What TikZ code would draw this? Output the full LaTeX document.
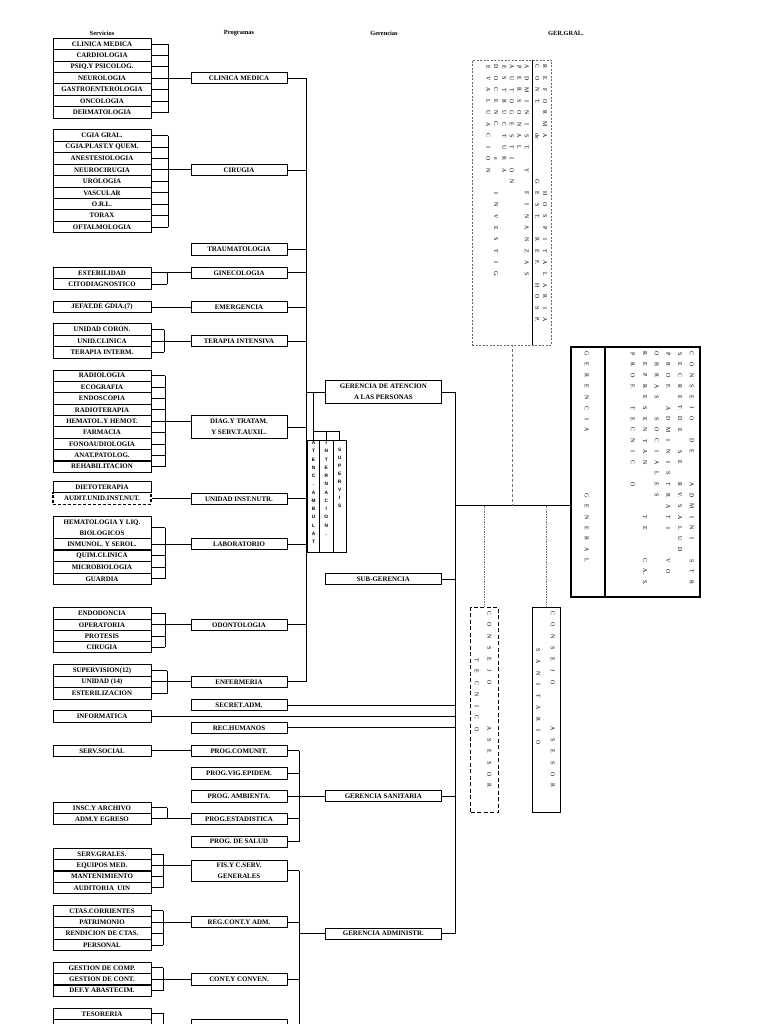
\documentclass[tikz,border=0pt]{standalone}
\usepackage{fontspec}
\setmainfont{Liberation Serif}
\newfontfamily\sansfam{Liberation Sans}
\ExplSyntaxOn
\NewDocumentCommand \vstack { m m }
  {
    \vbox:n
      {
        \skip_set:Nn \baselineskip {#1}
        \dim_set:Nn \lineskiplimit { -\c_max_dim }
        \tl_map_inline:nn {#2} { \hbox_to_wd:nn { 6pt } { \hss ##1 \hss } }
      }
  }
\NewDocumentCommand \hspaced { m m }
  {
    \tl_map_inline:nn {#2} { \hbox_to_wd:nn {#1} { \hss ##1 \hss } }
  }
\ExplSyntaxOff
\newcommand\bxfont{\fontsize{6.9}{10.6}\selectfont\bfseries}
\newcommand\hdfont{\fontsize{6.4}{7}\selectfont\bfseries}
\newcommand\rtfont{\fontsize{5.9}{6}\selectfont}
\newcommand\vsfont{\sansfam\fontsize{4.8}{5}\selectfont\bfseries}
\begin{document}
\begin{tikzpicture}[x=1pt,y=-1pt,
  box/.style={draw, line width=1pt, inner sep=0pt, align=center, font=\bxfont},
  svc/.style={box, minimum width=98pt, minimum height=11.4pt},
  prg/.style={box, minimum width=96pt, minimum height=11.2pt},
  ger/.style={box, minimum width=115.3pt, minimum height=10.8pt},
  ln/.style={line width=0.8pt},
  dd/.style={draw=black!55, line width=0.6pt, dash pattern=on 2pt off 1.2pt on 0.6pt off 1.2pt},
  rt/.style={rotate=-90, anchor=west, inner sep=0pt, font=\rtfont, text=black},
  vs/.style={inner sep=0pt, anchor=north, font=\vsfont},
  hd/.style={inner sep=0pt, font=\hdfont}]
\useasboundingbox (0,0) rectangle (768,1024);
\clip (0,0) rectangle (768,1024);

% headers
\node[hd] (hS) at (102,33) {Servicios};
\node[hd] (hP) at (239,33) {Programas};
\node[hd] (hG) at (384,33) {Gerencias};
\node[hd] (hGG) at (566,33) {GER.GRAL.};

% trunk coordinates
\coordinate (T1) at (306.7,0);
\coordinate (T2) at (455.7,0);
\coordinate (T3) at (299.3,0);
\coordinate (bot) at (0,1032);

% ---- CLINICA MEDICA
\node[svc] (cm1) at (102,44.0) {CLINICA MEDICA};
\node[svc] (cm2) at (102,55.4) {CARDIOLOGIA};
\node[svc] (cm3) at (102,66.9) {PSIQ.Y PSICOLOG.};
\node[svc] (cm4) at (102,78.3) {NEUROLOGIA};
\node[svc] (cm5) at (102,89.7) {GASTROENTEROLOGIA};
\node[svc] (cm6) at (102,101.2) {ONCOLOGIA};
\node[svc] (cm7) at (102,112.6) {DERMATOLOGIA};
\node[prg] (pCM) at (239,78.4) {CLINICA MEDICA};
\coordinate (Bcm) at (168,0);
\foreach \n in {cm1,cm2,cm3,cm4,cm5,cm6,cm7} \draw[ln] (\n.east) -- (\n.east -| Bcm);
\draw[ln] (cm1.east -| Bcm) -- (cm7.east -| Bcm);
\draw[ln] (cm4.east -| Bcm) -- (cm4.east -| pCM.west);

% ---- CIRUGIA
\node[svc] (cg1) at (102,135.7) {CGIA GRAL.};
\node[svc] (cg2) at (102,147.1) {CGIA.PLAST.Y QUEM.};
\node[svc] (cg3) at (102,158.5) {ANESTESIOLOGIA};
\node[svc] (cg4) at (102,169.9) {NEUROCIRUGIA};
\node[svc] (cg5) at (102,181.4) {UROLOGIA};
\node[svc] (cg6) at (102,192.8) {VASCULAR};
\node[svc] (cg7) at (102,204.2) {O.R.L.};
\node[svc] (cg8) at (102,215.6) {TORAX};
\node[svc] (cg9) at (102,227.0) {OFTALMOLOGIA};
\node[prg] (pCIR) at (239,170) {CIRUGIA};
\coordinate (Bcg) at (168,0);
\foreach \n in {cg1,cg2,cg3,cg4,cg5,cg6,cg7,cg8,cg9} \draw[ln] (\n.east) -- (\n.east -| Bcg);
\draw[ln] (cg1.east -| Bcg) -- (cg9.east -| Bcg);
\draw[ln] (cg4.east -| Bcg) -- (cg4.east -| pCIR.west);

% ---- TRAUMATOLOGIA
\node[prg] (pTRA) at (239,249.5) {TRAUMATOLOGIA};

% ---- GINECOLOGIA
\node[svc] (gi1) at (102,272.8) {ESTERILIDAD};
\node[svc] (gi2) at (102,284.2) {CITODIAGNOSTICO};
\node[prg] (pGIN) at (239,272.8) {GINECOLOGIA};
\coordinate (Bgi) at (167,0);
\foreach \n in {gi1,gi2} \draw[ln] (\n.east) -- (\n.east -| Bgi);
\draw[ln] (gi1.east -| Bgi) -- (gi2.east -| Bgi);
\draw[ln] (gi1.east -| Bgi) -- (pGIN.west);

% ---- EMERGENCIA
\node[svc] (jef) at (102,307.2) {JEFAT.DE GDIA.(7)};
\node[prg] (pEME) at (239,307.2) {EMERGENCIA};
\draw[ln] (jef.east) -- (pEME.west);

% ---- TERAPIA
\node[svc] (tr1) at (102,329.5) {UNIDAD CORON.};
\node[svc] (tr2) at (102,341) {UNID.CLINICA};
\node[svc] (tr3) at (102,352.4) {TERAPIA INTERM.};
\node[prg] (pTER) at (239,341) {TERAPIA INTENSIVA};
\coordinate (Btr) at (164,0);
\foreach \n in {tr1,tr2,tr3} \draw[ln] (\n.east) -- (\n.east -| Btr);
\draw[ln] (tr1.east -| Btr) -- (tr3.east -| Btr);
\draw[ln] (tr2.east -| Btr) -- (pTER.west);

% ---- DIAG
\node[svc] (dx1) at (102,375.7) {RADIOLOGIA};
\node[svc] (dx2) at (102,387.1) {ECOGRAFIA};
\node[svc] (dx3) at (102,398.4) {ENDOSCOPIA};
\node[svc] (dx4) at (102,409.8) {RADIOTERAPIA};
\node[svc] (dx5) at (102,421.2) {HEMATOL.Y HEMOT.};
\node[svc] (dx6) at (102,432.5) {FARMACIA};
\node[svc] (dx7) at (102,443.9) {FONOAUDIOLOGIA};
\node[svc] (dx8) at (102,455.3) {ANAT.PATOLOG.};
\node[svc] (dx9) at (102,466.6) {REHABILITACION};
\node[prg, minimum height=22.6pt] (pDIA) at (239,427) {DIAG.Y TRATAM.\\Y SERV.T.AUXIL.};
\coordinate (Bdx) at (165,0);
\foreach \n in {dx1,dx2,dx3,dx4,dx5,dx6,dx7,dx8,dx9} \draw[ln] (\n.east) -- (\n.east -| Bdx);
\draw[ln] (dx1.east -| Bdx) -- (dx9.east -| Bdx);
\draw[ln] (dx5.east -| Bdx) -- (dx5.east -| pDIA.west);

% ---- UNIDAD INST. NUTR.
\node[svc, minimum height=11pt] (diet) at (102,487.2) {DIETOTERAPIA};
\node[svc, minimum height=11.6pt, line width=1.4pt, dash pattern=on 3pt off 2pt] (aud) at (102,498.5) {AUDIT.UNID.INST.NUT.};
\node[prg] (pUNI) at (239,498.8) {UNIDAD INST.NUTR.};
\draw[ln] (aud.east) -- (aud.east -| pUNI.west);

% ---- LABORATORIO
\node[svc, minimum height=21.6pt] (lb1) at (102,527.5) {HEMATOLOGIA Y LIQ.\\BIOLOGICOS};
\node[svc] (lb2) at (102,544.15) {INMUNOL. Y SEROL.};
\node[svc] (lb3) at (102,555.85) {QUIM.CLINICA};
\node[svc] (lb4) at (102,567.5) {MICROBIOLOGIA};
\node[svc] (lb5) at (102,578.8) {GUARDIA};
\node[prg] (pLAB) at (239,544.15) {LABORATORIO};
\coordinate (Blb) at (165,0);
\foreach \n in {lb1,lb2,lb3,lb4,lb5} \draw[ln] (\n.east) -- (\n.east -| Blb);
\draw[ln] (lb1.east -| Blb) -- (lb5.east -| Blb);
\draw[ln] (lb2.east -| Blb) -- (pLAB.west);

% ---- ODONTOLOGIA
\node[svc] (od1) at (102,613.35) {ENDODONCIA};
\node[svc] (od2) at (102,624.85) {OPERATORIA};
\node[svc] (od3) at (102,636.2) {PROTESIS};
\node[svc] (od4) at (102,647.2) {CIRUGIA};
\node[prg] (pODO) at (239,624.85) {ODONTOLOGIA};
\coordinate (Bod) at (165,0);
\foreach \n in {od1,od2,od3,od4} \draw[ln] (\n.east) -- (\n.east -| Bod);
\draw[ln] (od1.east -| Bod) -- (od4.east -| Bod);
\draw[ln] (od2.east -| Bod) -- (pODO.west);

% ---- ENFERMERIA
\node[svc] (en1) at (102,670.5) {SUPERVISION(12)};
\node[svc] (en2) at (102,681.85) {UNIDAD (14)};
\node[svc] (en3) at (102,693.5) {ESTERILIZACION};
\node[prg] (pENF) at (239,681.85) {ENFERMERIA};
\coordinate (Ben) at (167,0);
\foreach \n in {en1,en2,en3} \draw[ln] (\n.east) -- (\n.east -| Ben);
\draw[ln] (en1.east -| Ben) -- (en3.east -| Ben);
\draw[ln] (en2.east -| Ben) -- (pENF.west);

% ---- trunk of Gerencia de Atencion
\foreach \n in {pCM,pCIR,pTRA,pGIN,pEME,pTER,pDIA,pUNI,pLAB,pODO,pENF} \draw[ln] (\n.east) -- (\n.east -| T1);
\draw[ln] (pCM.east -| T1) -- (pENF.east -| T1);

% ---- Gerencias
\node[ger, minimum height=22.6pt] (gAT) at (383.35,392) {GERENCIA DE ATENCION\\A LAS PERSONAS};
\node[ger] (gSUB) at (383.35,579.15) {SUB-GERENCIA};
\node[ger] (gSAN) at (383.35,796.35) {GERENCIA SANITARIA};
\node[ger] (gADM) at (383.35,933.65) {GERENCIA ADMINISTR.};
\draw[ln] (gAT.west -| T1) -- (gAT.west);

% ---- vertical boxes
\node[draw, line width=1pt, minimum width=11.6pt, minimum height=112.3pt, inner sep=0pt] (vA) at (313.5,496.15) {};
\node[draw, line width=1pt, minimum width=14pt, minimum height=112.3pt, inner sep=0pt] (vI) at (326.3,496.15) {};
\node[draw, line width=1pt, minimum width=12.7pt, minimum height=112.3pt, inner sep=0pt] (vS) at (339.65,496.15) {};
\node[vs] (vAt) at (313.5,441.2) {\vstack{8.25pt}{ATENC.AMBULAT}};
\node[vs] (vIt) at (326.3,441.2) {\vstack{8.25pt}{INTERNACION.}};
\node[vs] (vSt) at (339.65,441.2) {\vstack{8.1pt}{-SUPERVIS}};
\coordinate (br) at (0,431.7);
\draw[ln] (vA.north |- gAT.west) -- (vA.north);
\draw[ln] (vA.north |- br) -| (vS.north);
\draw[ln] (vI.north |- br) -- (vI.north);

% ---- staff to right trunk
\node[prg] (pSEC) at (239,705) {SECRET.ADM.};
\node[svc] (inf) at (102,716.5) {INFORMATICA};
\node[prg] (pREC) at (239,727.8) {REC.HUMANOS};

% ---- Gerencia sanitaria
\node[svc] (ss) at (102,750.85) {SERV.SOCIAL};
\node[prg] (pCOM) at (239,750.85) {PROG.COMUNIT.};
\draw[ln] (ss.east) -- (pCOM.west);
\node[prg] (pVIG) at (239,773.5) {PROG.VIG.EPIDEM.};
\node[prg] (pAMB) at (239,796.5) {PROG. AMBIENTA.};
\node[svc] (is1) at (102,807.8) {INSC.Y ARCHIVO};
\node[svc] (is2) at (102,818.8) {ADM.Y EGRESO};
\node[prg] (pEST) at (239,818.8) {PROG.ESTADISTICA};
\coordinate (Bis) at (167,0);
\foreach \n in {is1,is2} \draw[ln] (\n.east) -- (\n.east -| Bis);
\draw[ln] (is1.east -| Bis) -- (is2.east -| Bis);
\draw[ln] (is2.east -| Bis) -- (pEST.west);
\node[prg] (pSAL) at (239,841.65) {PROG. DE SALUD};
\foreach \n in {pCOM,pVIG,pAMB,pEST,pSAL} \draw[ln] (\n.east) -- (\n.east -| T3);
\draw[ln] (pCOM.east -| T3) -- (pSAL.east -| T3);
\draw[ln] (gSAN.west -| T3) -- (gSAN.west);

% ---- Gerencia administrativa
\node[svc] (fs1) at (102,854.15) {SERV.GRALES.};
\node[svc] (fs2) at (102,865.5) {EQUIPOS MED.};
\node[svc] (fs3) at (102,876.65) {MANTENIMIENTO};
\node[svc] (fs4) at (102,887.8) {AUDITORIA~~UIN};
\node[prg, minimum height=21.7pt] (pFIS) at (239,870.85) {FIS.Y C.SERV.\\GENERALES};
\coordinate (Bfs) at (163,0);
\foreach \n in {fs1,fs2,fs3,fs4} \draw[ln] (\n.east) -- (\n.east -| Bfs);
\draw[ln] (fs1.east -| Bfs) -- (fs4.east -| Bfs);
\draw[ln] (fs2.east -| Bfs) -- (fs2.east -| pFIS.west);

\node[svc] (rg1) at (102,910.85) {CTAS.CORRIENTES};
\node[svc] (rg2) at (102,922.2) {PATRIMONIO};
\node[svc] (rg3) at (102,933.5) {RENDICION DE CTAS.};
\node[svc] (rg4) at (102,945) {PERSONAL};
\node[prg] (pREG) at (239,922.2) {REG.CONT.Y ADM.};
\coordinate (Brg) at (163,0);
\foreach \n in {rg1,rg2,rg3,rg4} \draw[ln] (\n.east) -- (\n.east -| Brg);
\draw[ln] (rg1.east -| Brg) -- (rg4.east -| Brg);
\draw[ln] (rg2.east -| Brg) -- (pREG.west);

\node[svc] (ct1) at (102,967.85) {GESTION DE COMP.};
\node[svc] (ct2) at (102,979.5) {GESTION DE CONT.};
\node[svc] (ct3) at (102,990.5) {DEF.Y ABASTECIM.};
\node[prg] (pCON) at (239,979.5) {CONT.Y CONVEN.};
\coordinate (Bct) at (163,0);
\foreach \n in {ct1,ct2,ct3} \draw[ln] (\n.east) -- (\n.east -| Bct);
\draw[ln] (ct1.east -| Bct) -- (ct3.east -| Bct);
\draw[ln] (ct2.east -| Bct) -- (pCON.west);

\node[svc] (ts1) at (102,1013.8) {TESORERIA};
\node[svc] (ts2) at (102,1025.2) {};
\node[prg] (pTES) at (239,1025.2) {};
\coordinate (Bts) at (163,0);
\draw[ln] (ts1.east) -- (ts1.east -| Bts) -- (Bts |- bot);

\foreach \n in {pFIS,pREG,pCON} \draw[ln] (\n.east) -- (\n.east -| T3);
\draw[ln] (pFIS.east -| T3) -- (T3 |- bot);
\draw[ln] (gADM.west -| T3) -- (gADM.west);

% ---- right trunk
\draw[ln] (gAT.east) -- (gAT.east -| T2) -- (gADM.east -| T2) -- (gADM.east);
\foreach \n in {gSUB,pSEC,inf,pREC,gSAN} \draw[ln] (\n.east) -- (\n.east -| T2);

% ---- top dashed box
\node[draw=black!60, dash pattern=on 2pt off 1.5pt, line width=0.7pt, minimum width=79.4pt, minimum height=285pt, inner sep=0pt] (topb) at (512,202.5) {};
\coordinate (tdv) at (532.4,0);
\draw[line width=0.9pt] (topb.north -| tdv) -- (topb.south -| tdv);
\node[rt] (r1) at (545,61) {\hspaced{11.5pt}{REFORMA~~~~HOSPITALARIA}};
\node[rt] (r2) at (537.3,61) {\hspaced{11.5pt}{CON{T.}~~{de}~~~GES{T.}~RE{F.}~HOS{P.}}};
\node[rt] (r3) at (526.7,61) {\hspaced{11.5pt}{ADMINIS{T.}~Y~FINANZAS}};
\node[rt] (r4) at (519.3,61) {\hspaced{11.5pt}{PERSONAL}};
\node[rt] (r5) at (511.7,61) {\hspaced{11.5pt}{AUTOGESTION}};
\node[rt] (r6) at (504.3,61) {\hspaced{11.5pt}{ESTRUCTURA}};
\node[rt] (r7) at (496,61) {\hspaced{11.5pt}{DOCEN{C.}~~e~~INVESTI{G.}}};
\node[rt] (r8) at (488.3,61) {\hspaced{11.5pt}{EVALUACION}};

% ---- big box GER. GRAL.
\node[draw, line width=1.7pt, minimum width=129pt, minimum height=250pt, inner sep=0pt] (big) at (635.5,472) {};
\coordinate (bdv) at (605,0);
\draw[line width=1.2pt] (big.north -| bdv) -- (big.south -| bdv);
\node[rt] (b7) at (691.7,348) {\hspaced{10.9pt}{CONSEJO~DE~~ADMINI~STR}};
\node[rt] (b6) at (680,348) {\hspaced{10.9pt}{SECRE{T.}DE~SE~R{V.}SALUD}};
\node[rt] (b5) at (668.3,348) {\hspaced{10.9pt}{PRO{F.}~ADMINISTRATI~~VO}};
\node[rt] (b4) at (656.7,348) {\hspaced{10.9pt}{OBRAS~SOCIALES}};
\node[rt] (b3) at (645,348) {\hspaced{10.9pt}{REPRESENTAN~~~~TE~~{C.}{A.}{S.}}};
\node[rt] (b2) at (632.7,348) {\hspaced{10.9pt}{PRO{F.}~TECNIC~O}};
\node[rt] (b1) at (586.7,348) {\hspaced{10.9pt}{GERENCIA~~~~~GENERAL}};

% ---- consejos
\node[draw, line width=1.5pt, dash pattern=on 4pt off 2.5pt, minimum width=27.6pt, minimum height=205.4pt, inner sep=0pt] (ctec) at (484.5,710) {};
\node[draw, line width=0.9pt, minimum width=27.3pt, minimum height=205.4pt, inner sep=0pt] (csan) at (546.35,710) {};
\node[rt] (cta) at (489.3,607.3) {\hspaced{11.5pt}{CONSEJO~~~ASESOR}};
\node[rt] (ctb) at (476.7,654.3) {\hspaced{11.5pt}{TECNICO}};
\node[rt] (csa) at (552.7,607.3) {\hspaced{11.5pt}{CONSEJO~~~ASESOR}};
\node[rt] (csb) at (538.3,644.3) {\hspaced{11.5pt}{SANITARIO}};

% ---- junction and dash-dot links
\coordinate (J) at (455.7,505.7);
\draw[ln] (J) -- (J -| big.west);
\draw[dd] (topb.south) -- (topb.south |- J);
\draw[dd] (ctec.north |- J) -- (ctec.north);
\draw[dd] (csan.north |- J) -- (csan.north);
\end{tikzpicture}
\end{document}
